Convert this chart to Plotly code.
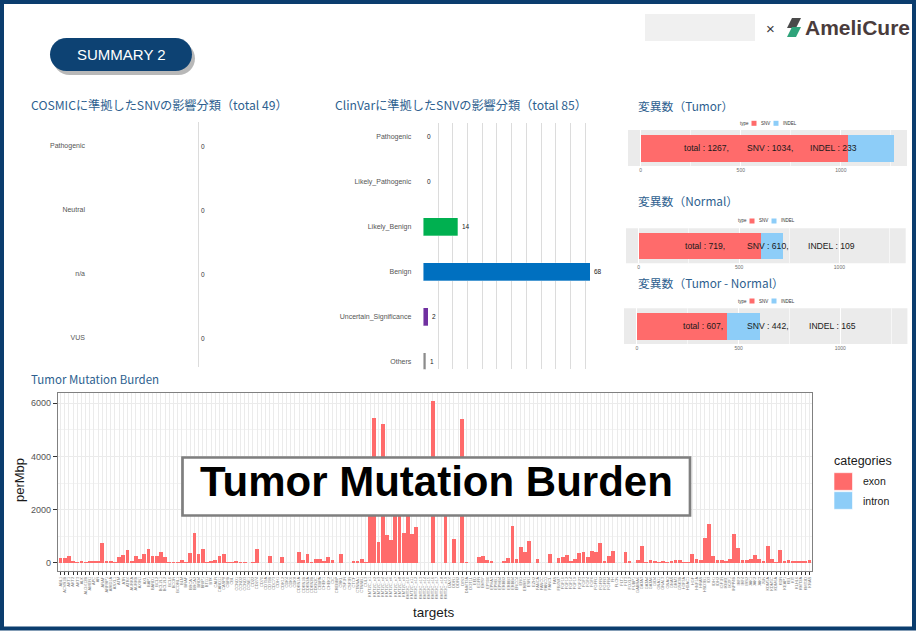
import plotly.graph_objects as go

# ---------------- data ----------------
tmb_exon = [
    200, 200, 275, 75, 25, 75, 25, 90, 50, 40,
    740, 60, 60, 25, 225, 300, 500, 50, 260, 140,
    325, 510, 260, 260, 400, 240, 20, 10, 10, 110,
    10, 375, 1110, 350, 525, 10, 75, 125, 250, 325,
    10, 10, 90, 10, 10, 0, 20, 510,
    0, 0, 260, 0, 0, 210, 0, 0, 0, 410,
    110, 340, 25, 140, 160, 90, 240, 110, 0, 350,
    0, 0, 60, 60, 140, 20, 2600, 5450, 800, 5200,
    1040, 860, 2400, 3200, 1140, 2000, 1090, 1360, 0, 0,
    0, 6075, 0, 0, 2300, 0, 890, 0, 5400, 10,
    0, 0, 240, 275, 100, 60, 0, 0,
    90, 175, 1390, 140, 610, 400, 825, 0, 140, 0,
    0, 350, 0, 200, 210, 290, 75, 150, 375, 425,
    240, 440, 425, 750, 50, 275, 440, 0, 0, 410,
    90, 0, 125, 640, 25, 125, 75, 25, 50, 10,
    60, 100, 100, 10, 10, 340, 150, 125, 925,
    1460,
    260, 100, 100, 75, 150, 1090, 550, 110, 125, 160,
    290, 160, 60, 640, 160, 25, 475, 60, 110, 75,
    75, 75, 75, 125,
]
gene_names = """ABL1 ACVR1B AKT1 AKT2 AKT3 ALK ALOX12B AMER1 APC AR ARAF ARFRP1 ARID1A
ASXL1 ATM ATR ATRX AURKA AURKB AXIN1 AXL BAP1 BARD1 BCL2 BCL2L1 BCL2L2 BCL6 BCOR
BCORL1 BLM BRAF BRCA1 BRCA2 BRD4 BRIP1 BTG1 BTK CALR CARD11 CASP8 CBFB CBL CCND1
CCND2 CCND3 CCNE1 CD22 CD274 CD70 CD79A CD79B CDC73 CDH1 CDK12 CDK4 CDK6 CDK8
CDKN1A CDKN1B CDKN2A CDKN2B CDKN2C CEBPA CHEK1 CHEK2 CIC CREBBP CRKL CSF1R CSF3R
CTCF CTNNA1 CTNNB1 CUL3 KMT2C_e1 KMT2C_e2 KMT2C_e3 KMT2C_e4 KMT2C_e5 KMT2C_e6
KMT2C_e7 KMT2C_e8 KMT2C_e9 KMT2C_e10 KMT2C_e11 KMT2C_e12 KMT2C_e13 KMT2C_e14
KMT2C_e15 KMT2C_e16 KMT2C_e17 KMT2C_e18 KMT2C_e19 DAXX DDR1 DDR2 DIS3 DNMT3A
DOT1L EED EGFR EMSY EP300 EPHA3 EPHB1 EPHB4 ERBB2 ERBB3 ERBB4 ERCC4 ERG ERRFI1
ESR1 EZH2 FANCA FANCC FANCG FANCL FAS FBXW7 FGF10 FGF12 FGF14 FGF19 FGF23 FGF3
FGF4 FGF6 FGFR1 FGFR2 FGFR3 FGFR4 FH FLCN FLT1 FLT3 FOXL2 FUBP1 GABRA6 GATA3
GATA4 GATA6 GID4 GNA11 GNA13 GNAQ GNAS GRM3 GSK3B H3F3A HDAC1 HGF HNF1A HRAS
HSD3B1 ID3 IDH1 IDH2 IGF1R IKBKE IKZF1 INPP4B IRF2 IRF4 IRS2 JAK1 JAK2 JAK3 JUN
KDM5A KDM5C KDM6A KDR KEAP1 KEL KIT KLHL6 KMT2A KMT2D KRAS LTK LYN MAF MAP2K1
MAP2K2 MAP2K4 MAP3K1 MAPK1 MCL1 MDM2 MDM4 MED12 MEF2B MEN1 MET MITF""".split()
targets = gene_names[:len(tmb_exon)]

cosmic_cats = ["Pathogenic", "Neutral", "n/a", "VUS"]
cosmic_vals = [0, 0, 0, 0]

clinvar_cats = ["Pathogenic", "Likely_Pathogenic", "Likely_Benign", "Benign",
                "Uncertain_Significance", "Others"]
clinvar_vals = [0, 0, 14, 68, 2, 1]
clinvar_colors = ["#C00000", "#FF0000", "#00B050", "#0070C0", "#7030A0", "#8C8C8C"]

var_titles = ["変異数（Tumor）", "変異数（Normal）", "変異数（Tumor - Normal）"]
var_snv = [1034, 610, 442]
var_indel = [233, 109, 165]
var_total = [1267, 719, 607]

# ---------------- helpers ----------------
W, H = 917, 632
def X(p): return p / W
def Y(p): return 1 - p / H
def dx(a, b): return [X(a), X(b)]
def dy(top, bottom): return [Y(bottom), Y(top)]

NAVY = "#0B3D6E"
TBLUE = "#2E5F8F"
RED = "#FF6B6B"
SKY = "#8DCDF8"
GTXT = "#555555"
JP = "Noto Sans CJK JP"
SANS = "Liberation Sans, Arial, sans-serif"

fig = go.Figure()

# TMB bars
fig.add_trace(go.Bar(x=targets, y=tmb_exon, name="exon", width=0.9,
                     marker=dict(color=RED, line=dict(width=0)),
                     xaxis="x", yaxis="y", showlegend=False))
# COSMIC
fig.add_trace(go.Bar(x=cosmic_vals, y=cosmic_cats, orientation="h", width=0.4,
                     marker=dict(color="#999999", line=dict(width=0)),
                     xaxis="x2", yaxis="y2", showlegend=False))
# ClinVar
fig.add_trace(go.Bar(x=clinvar_vals, y=clinvar_cats, orientation="h", width=0.4,
                     marker=dict(color=clinvar_colors, line=dict(width=0.6, color="rgba(255,255,255,0.5)")),
                     xaxis="x3", yaxis="y3", showlegend=False))
# variant count bars
for k in range(3):
    xa, ya = f"x{4+k}", f"y{4+k}"
    fig.add_trace(go.Bar(x=[var_snv[k]], y=[1], orientation="h", width=0.9, name="SNV",
                         marker=dict(color=RED, line=dict(width=0)),
                         xaxis=xa, yaxis=ya, showlegend=False))
    fig.add_trace(go.Bar(x=[var_indel[k]], y=[1], orientation="h", width=0.9, name="INDEL",
                         marker=dict(color=SKY, line=dict(width=0)),
                         xaxis=xa, yaxis=ya, showlegend=False))

layout = dict(
    width=W, height=H, margin=dict(l=0, r=0, t=0, b=0),
    paper_bgcolor="white", plot_bgcolor="rgba(0,0,0,0)",
    barmode="stack", showlegend=False,
    font=dict(family=SANS, color=GTXT),
)

# TMB axes
layout["xaxis"] = dict(domain=dx(58, 812), anchor="y", type="category",
                       categoryorder="array", categoryarray=targets,
                       range=[-0.6, len(targets) - 0.4], tickmode="linear", tick0=0, dtick=1,
                       tickangle=-90, tickfont=dict(size=4, color="#808080"),
                       ticks="outside", ticklen=3, tickwidth=0.7, tickcolor="#333333",
                       showgrid=True, gridcolor="#EBEBEB", gridwidth=0.6,
                       showline=True, mirror=True, linecolor="#808080", linewidth=1.3,
                       zeroline=False)
layout["yaxis"] = dict(domain=dy(393, 571), anchor="x", range=[-303.75, 6378.75],
                       tickvals=[0, 2000, 4000, 6000], tickfont=dict(size=9, color=GTXT),
                       ticks="outside", ticklen=4, tickwidth=0.8, tickcolor="#333333",
                       showgrid=True, gridcolor="#EBEBEB", gridwidth=1,
                       minor=dict(dtick=1000, showgrid=True, gridcolor="#F3F3F3", gridwidth=0.6),
                       showline=True, mirror=True, linecolor="#808080", linewidth=1.3,
                       zeroline=False)
# COSMIC axes
layout["xaxis2"] = dict(domain=dx(86, 310), anchor="y2", range=[-1, 1], tickvals=[0],
                        showticklabels=False, ticks="", showgrid=True, gridcolor="#DCDCDC",
                        gridwidth=1, zeroline=False)
layout["yaxis2"] = dict(domain=dy(122, 367), anchor="x2", type="category",
                        categoryorder="array", categoryarray=cosmic_cats,
                        range=[3.453, -0.375], showgrid=False, ticks="", zeroline=False,
                        tickfont=dict(size=7, color=GTXT), ticklabelstandoff=0)
# ClinVar axes
layout["xaxis3"] = dict(domain=dx(423.3, 600.8), anchor="y3", range=[0, 72.3],
                        tickvals=[0, 6, 12, 18, 24, 30, 36, 42, 48, 54, 60, 66, 72],
                        showticklabels=False, ticks="", showgrid=True, gridcolor="#DCDCDC",
                        gridwidth=1, zeroline=False)
layout["yaxis3"] = dict(domain=dy(123.3, 369.3), anchor="x3", type="category",
                        categoryorder="array", categoryarray=clinvar_cats,
                        range=[5.169, -0.298], showgrid=False, ticks="", zeroline=False,
                        tickfont=dict(size=7, color=GTXT), ticklabelstandoff=11)
# variant panels
var_dom = [((628, 907), (130, 166)), ((626, 905.7), (228.3, 263.3)), ((624, 907.4), (308.3, 344))]
for k, ((xa0, xa1), (ya0, ya1)) in enumerate(var_dom):
    n = 4 + k
    layout[f"xaxis{n}"] = dict(domain=dx(xa0, xa1), anchor=f"y{n}", range=[-63.35, 1330.35],
                               tickvals=[0, 500, 1000], tickfont=dict(size=5, color="#6E6E6E"),
                               ticks="", showgrid=True, gridcolor="white", gridwidth=1,
                               minor=dict(dtick=250, showgrid=True, gridcolor="#F7F7F7", gridwidth=0.5),
                               zeroline=False, showline=False)
    layout[f"yaxis{n}"] = dict(domain=dy(ya0, ya1), anchor=f"x{n}", range=[0.4, 1.6],
                               showticklabels=False, ticks="", showgrid=False, zeroline=False)

fig.update_layout(**layout)

shapes = []
annotations = []

# outer navy frame
shapes.append(dict(type="rect", xref="paper", yref="paper", x0=X(2), x1=X(914), y0=Y(628.5), y1=Y(2),
                   line=dict(color=NAVY, width=4), fillcolor="rgba(0,0,0,0)", layer="above"))

# grey panel backgrounds
for k in range(3):
    n = 4 + k
    shapes.append(dict(type="rect", xref=f"x{n} domain", yref=f"y{n} domain", x0=0, x1=1, y0=0, y1=1,
                       fillcolor="#EBEBEB", line=dict(width=0), layer="below"))

# pill button helper
def pill(x0, y0, x1, y1):
    r = (y1 - y0) / 2
    k = 0.5523 * r
    yc = (y0 + y1) / 2
    pts = [
        ("M", [(x0 + r, y0)]), ("L", [(x1 - r, y0)]),
        ("C", [(x1 - r + k, y0), (x1, yc - k), (x1, yc)]),
        ("C", [(x1, yc + k), (x1 - r + k, y1), (x1 - r, y1)]),
        ("L", [(x0 + r, y1)]),
        ("C", [(x0 + r - k, y1), (x0, yc + k), (x0, yc)]),
        ("C", [(x0, yc - k), (x0 + r - k, y0), (x0 + r, y0)]),
    ]
    s = ""
    for cmd, ps in pts:
        s += cmd + " " + " ".join(f"{X(a):.5f},{Y(b):.5f}" for a, b in ps) + " "
    return s + "Z"

shapes.append(dict(type="path", xref="paper", yref="paper", path=pill(53, 42, 195, 75),
                   fillcolor="rgba(0,0,0,0.28)", line=dict(width=0), layer="above"))
shapes.append(dict(type="path", xref="paper", yref="paper", path=pill(50, 38, 192, 71),
                   fillcolor="#0D4273", line=dict(width=0), layer="above"))
annotations.append(dict(xref="paper", yref="paper", x=X(121), y=Y(54.5), text="SUMMARY 2",
                        showarrow=False, xanchor="center", yanchor="middle",
                        font=dict(family="Liberation Sans Narrow, Liberation Sans", size=15, color="white")))

# logo area
shapes.append(dict(type="rect", xref="paper", yref="paper", x0=X(645), x1=X(755), y0=Y(41), y1=Y(14),
                   fillcolor="#F0F0F0", line=dict(width=0), layer="above"))
annotations.append(dict(xref="paper", yref="paper", x=X(770.5), y=Y(28.5), text="×", showarrow=False,
                        xanchor="center", yanchor="middle",
                        font=dict(family=SANS, size=15, color="#3A3A3A")))
shapes.append(dict(type="path", xref="paper", yref="paper",
                   path=f"M {X(792)},{Y(18)} L {X(801)},{Y(18)} L {X(796)},{Y(28)} L {X(787)},{Y(28)} Z",
                   fillcolor="#4A4A4A", line=dict(width=0), layer="above"))
shapes.append(dict(type="path", xref="paper", yref="paper",
                   path=f"M {X(792)},{Y(27)} L {X(801)},{Y(27)} L {X(796)},{Y(37)} L {X(787)},{Y(37)} Z",
                   fillcolor="#2FA37A", line=dict(width=0), layer="above"))
annotations.append(dict(xref="paper", yref="paper", x=X(803), y=Y(27.5), text="<b>AmeliCure</b>",
                        showarrow=False, xanchor="left", yanchor="middle",
                        font=dict(family="Liberation Sans Narrow, Liberation Sans", size=21, color="#4A3C3C")))

# section titles
def title(x, y, text, size=12):
    annotations.append(dict(xref="paper", yref="paper", x=X(x), y=Y(y), text=text, showarrow=False,
                            xanchor="left", yanchor="middle",
                            font=dict(family=JP, size=size, color=TBLUE)))

title(28.5, 105, "COSMICに準拠したSNVの影響分類（total 49）", 12.2)
title(332.5, 105, "ClinVarに準拠したSNVの影響分類（total 85）", 12.2)
title(29, 379, "Tumor Mutation Burden", 11.5)
title(636, 105, var_titles[0], 11.8)
title(636, 200.5, var_titles[1], 11.8)
title(636, 283, var_titles[2], 11.8)

# COSMIC value labels
for c, v in zip(cosmic_cats, cosmic_vals):
    annotations.append(dict(xref="x2", yref="y2", x=v, y=c, text=str(v), showarrow=False,
                            xanchor="left", yanchor="middle", xshift=1,
                            font=dict(family=SANS, size=6.5, color="#333333")))
# ClinVar value labels
for c, v in zip(clinvar_cats, clinvar_vals):
    annotations.append(dict(xref="x3", yref="y3", x=v, y=c, text=str(v), showarrow=False,
                            xanchor="left", yanchor="middle", xshift=2,
                            font=dict(family=SANS, size=6.5, color="#222222")))

# variant bar texts and tiny legends
text_x = [(682, 745, 808.3), (682.7, 745, 806), (681, 745, 806.7)]
leg_pos = [(738, 123.3), (736, 221), (736, 301)]
for k in range(3):
    n = 4 + k
    parts = [f"total : {var_total[k]},", f"SNV : {var_snv[k]},", f"INDEL : {var_indel[k]}"]
    for px_, part in zip(text_x[k], parts):
        annotations.append(dict(xref="paper", yref=f"y{n}", x=X(px_), y=1, text=part, showarrow=False,
                                xanchor="left", yanchor="middle",
                                font=dict(family=SANS, size=8.6, color="#1A1A1A")))
    lx, ly = leg_pos[k]
    annotations.append(dict(xref="paper", yref="paper", x=X(lx), y=Y(ly), text="type", showarrow=False,
                            xanchor="left", yanchor="middle", font=dict(family=SANS, size=4.5, color="#333333")))
    shapes.append(dict(type="rect", xref="paper", yref="paper", x0=X(lx + 13.5), x1=X(lx + 18.5),
                       y0=Y(ly + 2.5), y1=Y(ly - 2.5), fillcolor=RED, line=dict(width=0)))
    annotations.append(dict(xref="paper", yref="paper", x=X(lx + 21), y=Y(ly), text="SNV", showarrow=False,
                            xanchor="left", yanchor="middle", font=dict(family=SANS, size=4.5, color="#333333")))
    shapes.append(dict(type="rect", xref="paper", yref="paper", x0=X(lx + 35.5), x1=X(lx + 40.5),
                       y0=Y(ly + 2.5), y1=Y(ly - 2.5), fillcolor=SKY, line=dict(width=0)))
    annotations.append(dict(xref="paper", yref="paper", x=X(lx + 43), y=Y(ly), text="INDEL", showarrow=False,
                            xanchor="left", yanchor="middle", font=dict(family=SANS, size=4.5, color="#333333")))

# TMB axis titles
annotations.append(dict(xref="paper", yref="paper", x=X(434), y=Y(612), text="targets", showarrow=False,
                        xanchor="center", yanchor="middle", font=dict(family=SANS, size=13.5, color="#1A1A1A")))
annotations.append(dict(xref="paper", yref="paper", x=X(19), y=Y(480), text="perMbp", showarrow=False,
                        textangle=-90, xanchor="center", yanchor="middle",
                        font=dict(family=SANS, size=13, color="#1A1A1A")))

# TMB legend
annotations.append(dict(xref="paper", yref="paper", x=X(832), y=Y(461), text="categories", showarrow=False,
                        xanchor="left", yanchor="middle", font=dict(family=SANS, size=12.5, color="#1A1A1A")))
for lab, col, yc in [("exon", RED, 481.5), ("intron", SKY, 500.5)]:
    shapes.append(dict(type="rect", xref="paper", yref="paper", x0=X(834), x1=X(852.5),
                       y0=Y(yc + 8.8), y1=Y(yc - 8.8), fillcolor=col, line=dict(width=0.6, color="white")))
    annotations.append(dict(xref="paper", yref="paper", x=X(861), y=Y(yc), text=lab, showarrow=False,
                            xanchor="left", yanchor="middle", font=dict(family=SANS, size=10.5, color="#1A1A1A")))

# overlay label box on TMB
shapes.append(dict(type="rect", xref="paper", yref="paper", x0=X(182.5), x1=X(690), y0=Y(515.5), y1=Y(457.5),
                   fillcolor="white", line=dict(color="#7F7F7F", width=2.7), layer="above"))
annotations.append(dict(xref="paper", yref="paper", x=X(436), y=Y(481.5), text="<b>Tumor Mutation Burden</b>",
                        showarrow=False, xanchor="center", yanchor="middle",
                        font=dict(family=SANS, size=42, color="black")))

fig.update_layout(shapes=shapes, annotations=annotations)
fig.write_html("out.html", config={"displayModeBar": False},
               post_script="document.body.style.margin='0';document.body.style.overflow='hidden';")
